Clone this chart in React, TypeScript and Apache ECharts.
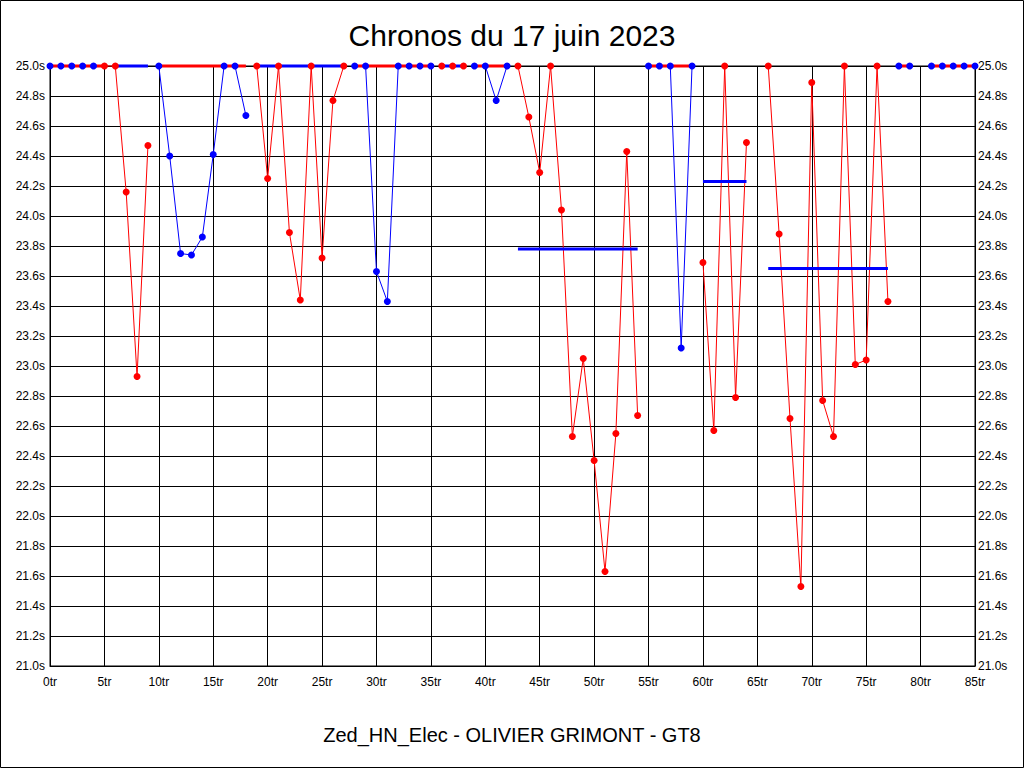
import React, { useEffect, useRef } from "react";
import * as echarts from "echarts";

// Lap times (s) per stint; values at 25.0 are clipped at the top of the chart
const stintA = [25, 25, 25, 25, 25];
const stintB = [25, 25, 24.16, 22.93, 24.47];
const stintC = [25, 24.4, 23.75, 23.74, 23.86, 24.41, 25, 25, 24.67];
const stintD = [25, 24.25, 25, 23.89, 23.44, 25, 23.72, 24.77, 25];
const stintE = [25, 25, 23.63, 23.43, 25, 25, 25, 25];
const stintF = [25, 25, 25];
const stintG = [25, 25, 24.77, 25];
const stintH = [25, 24.66, 24.29, 25, 24.04, 22.53, 23.05, 22.37, 21.63, 22.55, 24.43, 22.67];
const stintI = [25, 25, 25, 23.12, 25];
const stintJ = [23.69, 22.57, 25, 22.79, 24.49];
const stintK = [25, 23.88, 22.65, 21.53, 24.89, 22.77, 22.53, 25, 23.01, 23.04, 25, 23.43];
const stintL = [25, 25];
const stintM = [25, 25, 25, 25, 25];

const stintTimes = [stintA, stintB, stintC, stintD, stintE, stintF, stintG, stintH, stintI, stintJ, stintK, stintL, stintM];
const stintStartLap = [0, 5, 10, 19, 28, 36, 39, 43, 55, 60, 66, 78, 81];
const stintDriver = [0, 1, 0, 1, 0, 1, 0, 1, 0, 1, 1, 0, 0]; // 0 = blue, 1 = red

// Stint averages (drawn in the other colour)
const avgFromLap = [0, 6, 10, 19, 28, 36, 39, 43, 55, 60, 66, 78, 81];
const avgToLap = [5, 9, 18, 27, 35, 38, 42, 54, 59, 64, 77, 79, 85];
const avgTime = [25, 25, 25, 25, 25, 25, 25, 23.78, 25, 24.23, 23.65, 25, 25];

const lapMin = 0;
const lapMax = 85;
const lapStep = 5;
const timeMin = 21;
const timeMax = 25;
const timeStep = 0.2;

const titleText = "Chronos du 17 juin 2023";
const subtitleText = "Zed_HN_Elec - OLIVIER GRIMONT - GT8";

const COLORS = ["#0000FF", "#FF0000"];
const FONT = "'Liberation Sans', Arial, sans-serif";

export default function App() {
  const ref = useRef<HTMLDivElement>(null);

  useEffect(() => {
    if (!ref.current) return;
    const chart = echarts.init(ref.current, null, { renderer: "svg" });

    const series: any[] = [];
    // thin lines
    stintTimes.forEach((times, s) => {
      series.push({
        type: "line",
        data: times.map((t, i) => [stintStartLap[s] + i, t]),
        showSymbol: false,
        symbol: "none",
        clip: false,
        lineStyle: { width: 1, color: COLORS[stintDriver[s]] },
        itemStyle: { color: COLORS[stintDriver[s]] },
        z: 2,
        silent: true,
      });
    });
    // average lines
    avgTime.forEach((a, s) => {
      const c = COLORS[1 - stintDriver[s]];
      series.push({
        type: "line",
        data: [
          [avgFromLap[s], a],
          [avgToLap[s], a],
        ],
        symbol: "none",
        clip: false,
        lineStyle: { width: 3, color: c },
        itemStyle: { color: c },
        z: 3,
        silent: true,
      });
    });
    // dots
    [0, 1].forEach((d) => {
      const pts: number[][] = [];
      stintTimes.forEach((times, s) => {
        if (stintDriver[s] !== d) return;
        times.forEach((t, i) => pts.push([stintStartLap[s] + i, t]));
      });
      series.push({
        type: "scatter",
        data: pts,
        symbol: "circle",
        symbolSize: 7,
        clip: false,
        itemStyle: { color: COLORS[d], opacity: 1 },
        z: 4,
        silent: true,
      });
    });

    const yLabel = {
      color: "#000",
      fontFamily: FONT,
      fontSize: 12,
      formatter: (v: number) => v.toFixed(1) + "s",
    };

    chart.setOption({
      animation: false,
      backgroundColor: "#fff",
      grid: {
        left: 50,
        top: 66,
        width: 925,
        height: 600,
        show: true,
        borderColor: "#000",
        borderWidth: 1,
        backgroundColor: "transparent",
      },
      xAxis: {
        type: "value",
        min: lapMin,
        max: lapMax,
        interval: lapStep,
        axisLine: { show: true, lineStyle: { color: "#000", width: 1 } },
        axisTick: { show: false },
        splitLine: { show: true, lineStyle: { color: "#000", width: 1 } },
        axisLabel: {
          color: "#000",
          fontFamily: FONT,
          fontSize: 12,
          margin: 10,
          formatter: (v: number) => v + "tr",
        },
      },
      yAxis: [
        {
          type: "value",
          min: timeMin,
          max: timeMax,
          interval: timeStep,
          position: "left",
          axisLine: { show: true, lineStyle: { color: "#000", width: 1 } },
          axisTick: { show: false },
          splitLine: { show: true, lineStyle: { color: "#000", width: 1 } },
          axisLabel: { ...yLabel, margin: 5 },
        },
        {
          type: "value",
          min: timeMin,
          max: timeMax,
          interval: timeStep,
          position: "right",
          axisLine: { show: true, lineStyle: { color: "#000", width: 1 } },
          axisTick: { show: false },
          splitLine: { show: false },
          axisLabel: { ...yLabel, margin: 3 },
        },
      ],
      graphic: [
        {
          type: "rect",
          shape: { x: 0.5, y: 0.5, width: 1023, height: 767 },
          style: { fill: "none", stroke: "#000", lineWidth: 1 },
          silent: true,
          z: 10,
        },
        {
          type: "text",
          x: 512,
          y: 35,
          style: {
            text: titleText,
            fill: "#000",
            font: `30px ${FONT}`,
            align: "center",
            verticalAlign: "middle",
          },
        },
        {
          type: "text",
          x: 512,
          y: 735,
          style: {
            text: subtitleText,
            fill: "#000",
            font: `20px ${FONT}`,
            align: "center",
            verticalAlign: "middle",
          },
        },
      ],
      series,
    });

    return () => chart.dispose();
  }, []);

  return (
    <div
      ref={ref}
      style={{ position: "fixed", left: 0, top: 0, width: 1024, height: 768, background: "#fff" }}
    />
  );
}
